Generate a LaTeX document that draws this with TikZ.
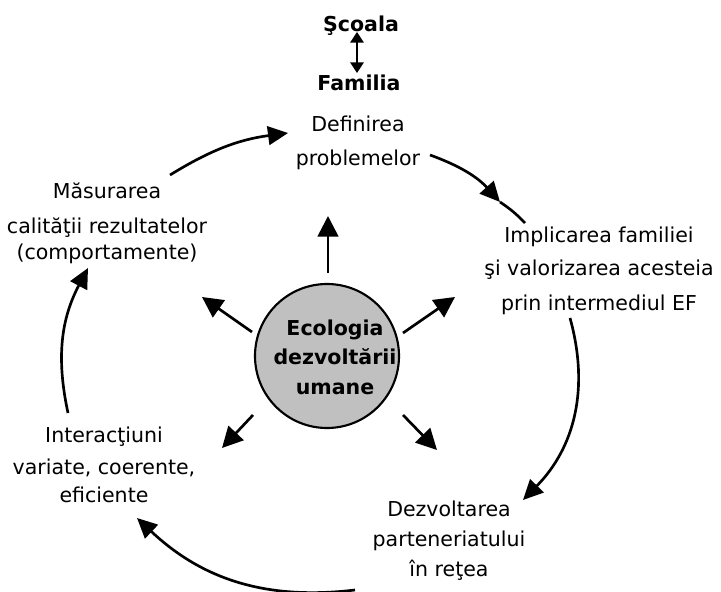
\documentclass[tikz,border=0pt]{standalone}
\usepackage{fontspec}
\setmainfont{DejaVu Sans}
\usetikzlibrary{arrows.meta}
\definecolor{ecogray}{RGB}{192,192,192}

\begin{document}
\begin{tikzpicture}[x=0.75pt,y=0.75pt,
  txt/.style={align=center,inner sep=0pt,anchor=base,font=\fontsize{15.4}{22}\selectfont},
  boldtxt/.style={txt,font=\fontsize{15.4}{22}\selectfont\bfseries},
  cyc/.style={line width=2pt,-{Triangle[length=15pt,width=14pt]}},
  ray/.style={line width=2pt,-{Triangle[length=15.5pt,width=15.5pt]}}]
\useasboundingbox (0,0) rectangle (721,-592);

\node[boldtxt] (scoala) at (361,-32) {Şcoala};
\node[boldtxt] (familia) at (359,-90) {Familia};
\coordinate (sf1) at (357,-32);
\coordinate (sf2) at (357,-73);
\draw[line width=1.8pt,{Triangle[length=8pt,width=10pt]}-{Triangle[length=8pt,width=10pt]}] (sf1) -- (sf2);

% base of a node = its last line
\node[txt] (def) at (358,-165) {Definirea\\[2.75pt]problemelor};
\node[txt] (impl) at (599,-310) {Implicarea familiei\\[2.75pt]şi valorizarea acesteia\\[4.25pt]prin intermediul EF};
\node[txt] (dezv) at (449,-576) {Dezvoltarea\\[0.5pt]parteneriatului\\în reţea};
\node[txt] (inter) at (104,-502) {Interacţiuni\\[2pt]variate, coerente,\\[-1pt]eficiente};
\node[txt] (mas) at (107,-259) {Măsurarea\\[4.25pt]calităţii rezultatelor\\[-2.5pt](comportamente)};

% center
\node[circle,draw,line width=1.6pt,fill=ecogray,minimum size=108pt,inner sep=0pt] (eco) at (327,-356) {};
\node[boldtxt] (ecotxt) at (335,-394) {Ecologia\\dezvoltării\\umane};

\coordinate (r1a) at (328,-273); \coordinate (r1b) at (328,-216);
\coordinate (r2a) at (252,-332); \coordinate (r2b) at (202,-297);
\coordinate (r3a) at (403,-333); \coordinate (r3b) at (455,-297);
\coordinate (r4a) at (253,-415); \coordinate (r4b) at (222,-448);
\coordinate (r5a) at (403,-415); \coordinate (r5b) at (437,-450);
\draw[ray] (r1a) -- (r1b);
\draw[ray] (r2a) -- (r2b);
\draw[ray] (r3a) -- (r3b);
\draw[ray] (r4a) -- (r4b);
\draw[ray] (r5a) -- (r5b);

% cycle
\coordinate (c1a) at (170,-175); \coordinate (c1b) at (288,-133);
\coordinate (c2a) at (430,-155); \coordinate (c2b) at (500,-202); \coordinate (c2c) at (525,-223);
\coordinate (c3a) at (570,-318); \coordinate (c3b) at (523,-500);
\coordinate (c4a) at (355,-590); \coordinate (c4b) at (137,-518);
\coordinate (c5a) at (68,-413); \coordinate (c5b) at (88,-268);
\draw[cyc] (c1a) to[bend left=12] (c1b);
\draw[cyc] (c2a) to[bend left=14] (c2b);
\draw[line width=2pt] (c2b) to[bend left=6] (c2c);
\draw[cyc] (c3a) to[bend left=30] (c3b);
\draw[cyc] (c4a) to[bend left=25] (c4b);
\draw[cyc] (c5a) to[bend left=20] (c5b);
\end{tikzpicture}
\end{document}
